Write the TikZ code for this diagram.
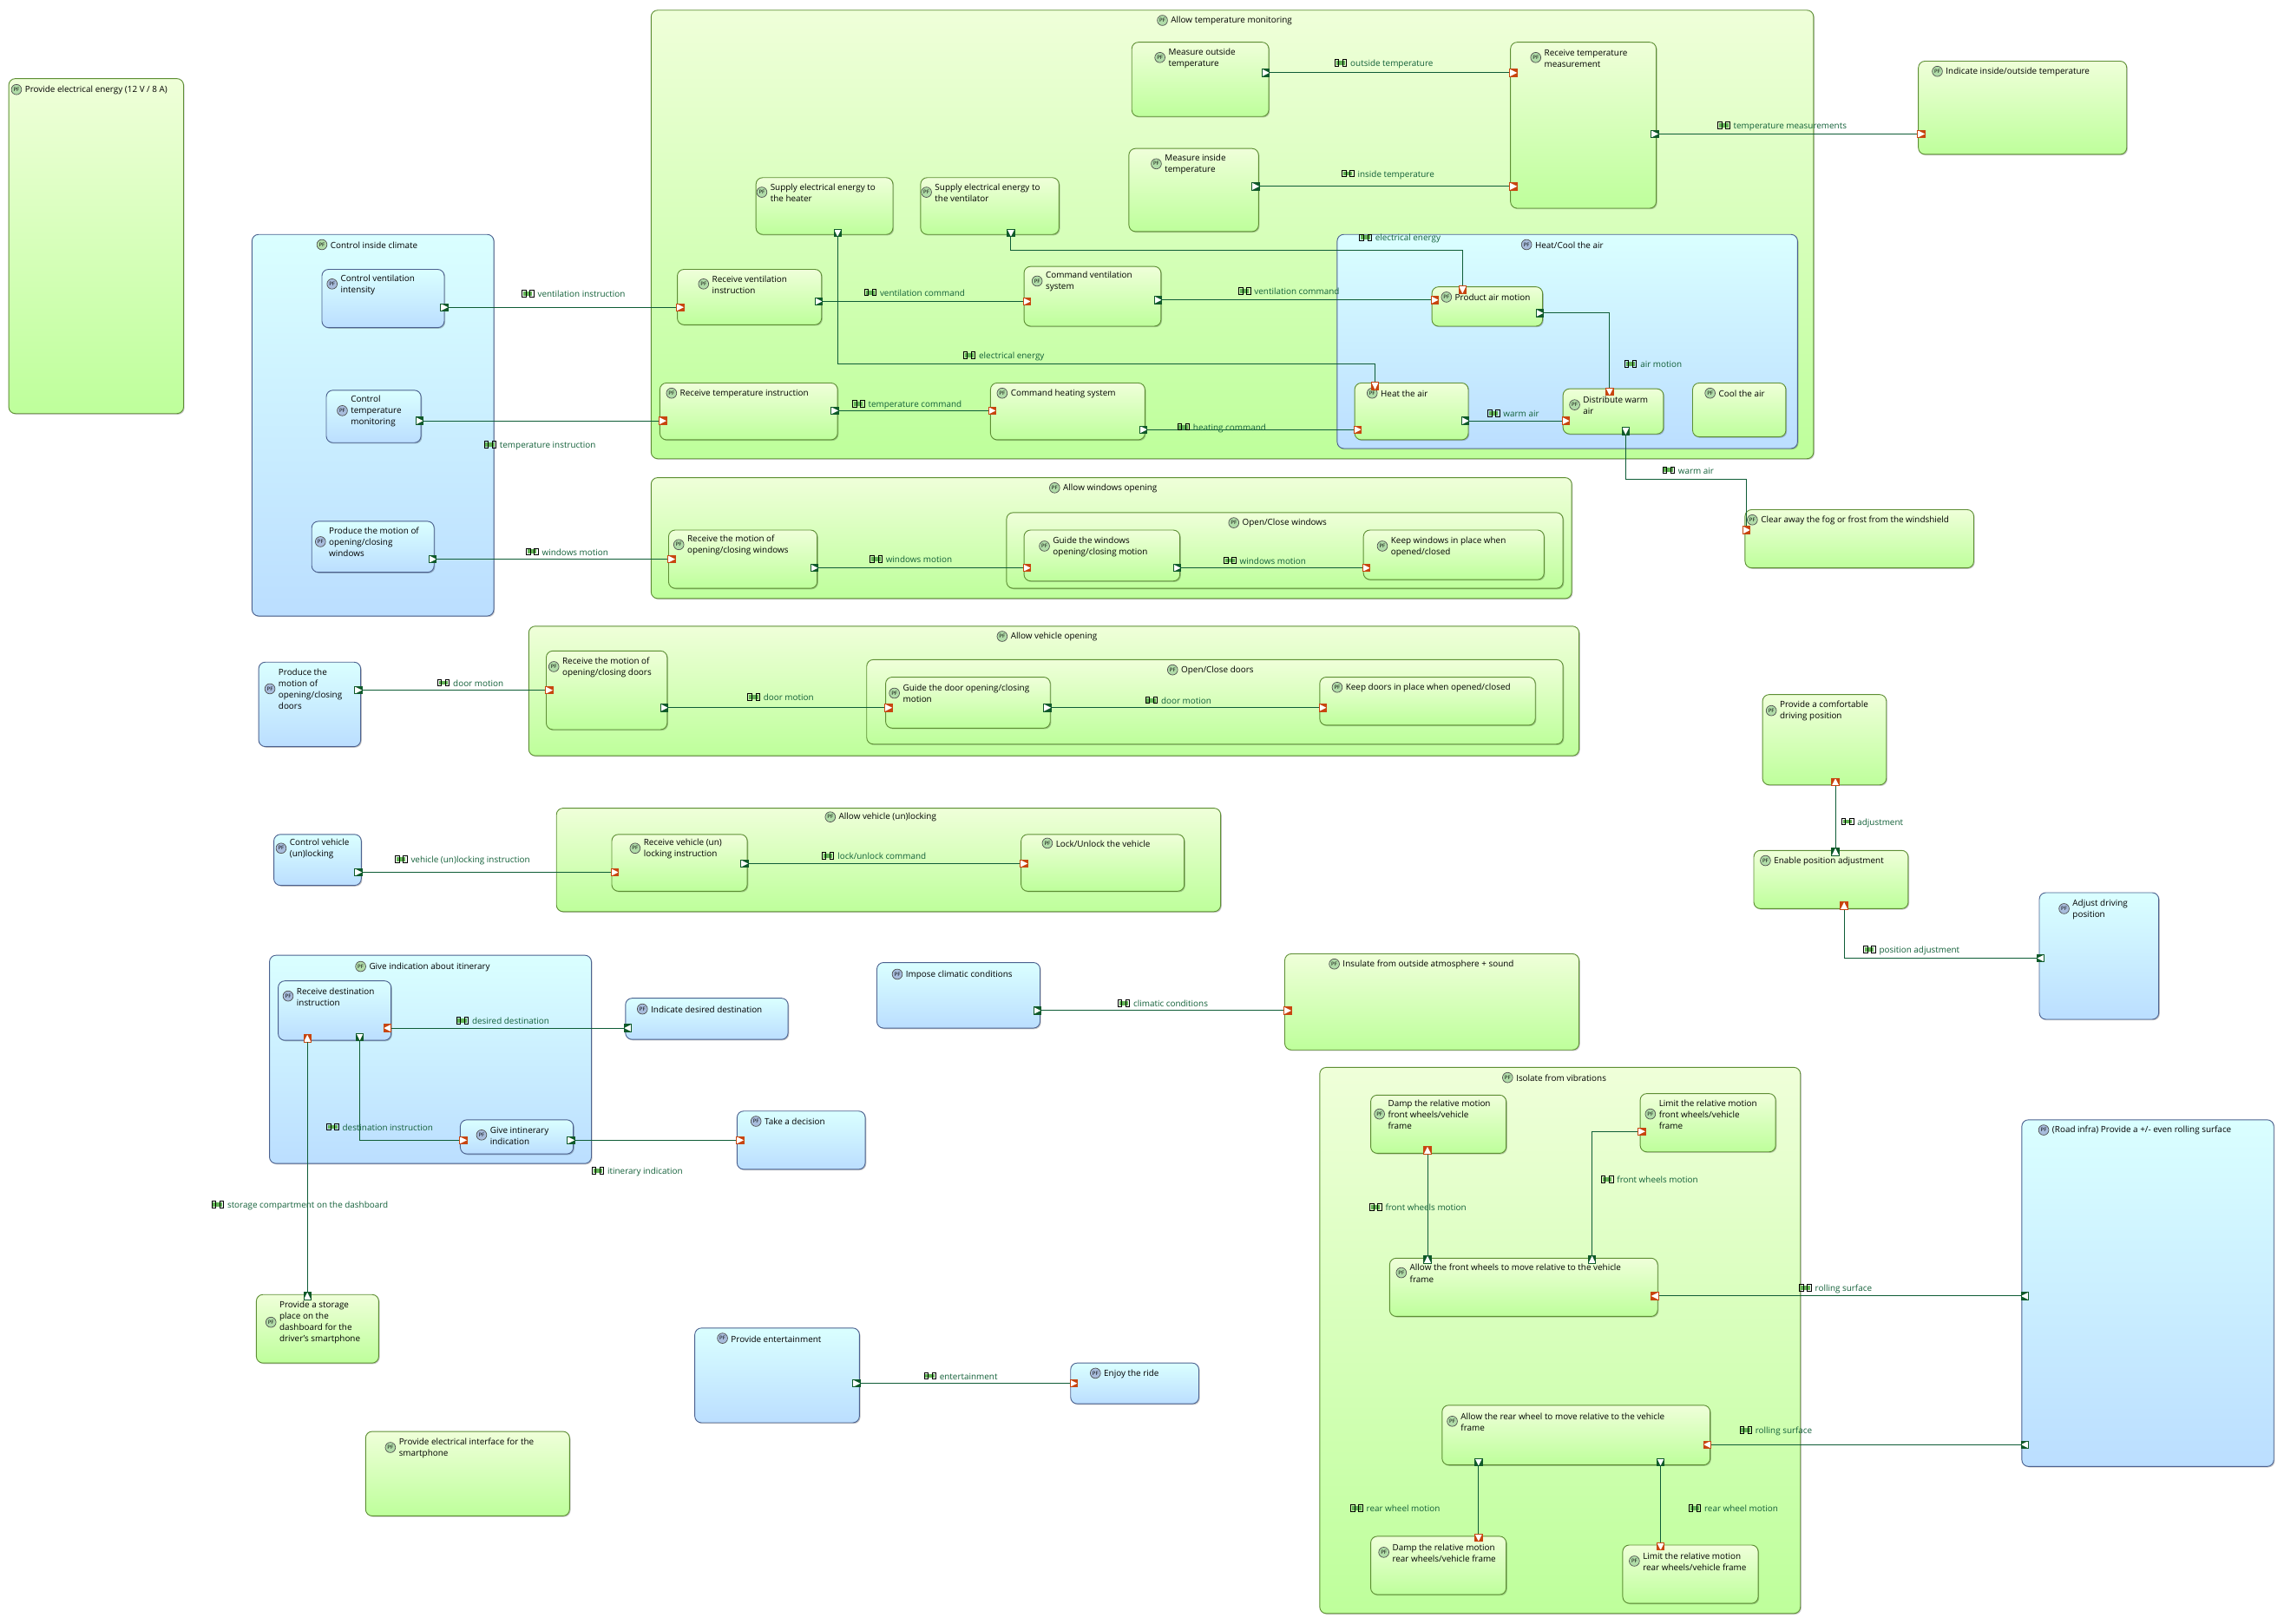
\documentclass[tikz,border=0pt]{standalone}
\usepackage{fontspec}
\setmainfont{Open Sans}
\usetikzlibrary{positioning, shadows}
\definecolor{flowgreen}{HTML}{0E5C36}
\definecolor{itemgreen}{HTML}{125F38}
\definecolor{itemfill}{HTML}{62B455}
\definecolor{outgreen}{HTML}{0F5A2A}
\definecolor{inorange}{HTML}{C8450F}
\definecolor{gtop}{HTML}{EFFFD9}
\definecolor{gbot}{HTML}{BEFF9B}
\definecolor{gline}{HTML}{5E8F34}
\definecolor{btop}{HTML}{DAFFFF}
\definecolor{bbot}{HTML}{BBDEFF}
\definecolor{bline}{HTML}{4C6290}
\definecolor{pfgfill}{HTML}{B0DCA8}
\definecolor{pfbfill}{HTML}{A8BCDC}
\newcommand{\itemmark}{\tikz[baseline=0pt,x=1pt,y=1pt]{\fill[itemfill] (1,1) rectangle (7.2,3.9);\draw[black,line width=.5pt] (2.8,.2) -- (.2,.2) -- (.2,4.8) -- (2.8,4.8) -- cycle (5.6,.2) -- (8.2,.2) -- (8.2,4.8) -- (5.6,4.8) -- cycle;}\hspace{2.4pt}}
\begin{document}
\begin{tikzpicture}[
    x=1pt, y=-1pt,
    funcg/.style={rectangle, draw=gline, line width=.55pt, rounded corners=4.5pt, top color=gtop, bottom color=gbot, drop shadow={shadow xshift=.7pt, shadow yshift=-.7pt, opacity=.22, fill=black}},
    funcb/.style={rectangle, draw=bline, line width=.55pt, rounded corners=4.5pt, top color=btop, bottom color=bbot, drop shadow={shadow xshift=.7pt, shadow yshift=-.7pt, opacity=.22, fill=black}},
    pfg/.style={circle, draw=black!70, line width=.4pt, fill=pfgfill, inner sep=0pt, minimum size=7pt, font=\fontsize{3.6}{4}\selectfont},
    pfb/.style={circle, draw=black!70, line width=.4pt, fill=pfbfill, inner sep=0pt, minimum size=7pt, font=\fontsize{3.6}{4}\selectfont},
    fntext/.style={inner sep=0pt, yshift=-.4pt, align=left, font=\fontsize{5.9}{7.75}\selectfont, text=black},
    itemtext/.style={anchor=west, inner sep=0pt, yshift=-.8pt, font=\fontsize{5.9}{7.75}\selectfont, text=itemgreen},
    flow/.style={draw=flowgreen, line width=.6pt},
    porta/.style={rectangle, minimum size=5pt, inner sep=0pt, line width=.5pt},
    tr/.style={path picture={\fill[white] (path picture bounding box.north west) -- (path picture bounding box.east) -- (path picture bounding box.south west) -- cycle;}},
    tl/.style={path picture={\fill[white] (path picture bounding box.north east) -- (path picture bounding box.west) -- (path picture bounding box.south east) -- cycle;}},
    tu/.style={path picture={\fill[white] (path picture bounding box.south west) -- (path picture bounding box.north) -- (path picture bounding box.south east) -- cycle;}},
    td/.style={path picture={\fill[white] (path picture bounding box.north west) -- (path picture bounding box.south) -- (path picture bounding box.north east) -- cycle;}},
    outR/.style={porta, draw=outgreen, fill=outgreen, tr},
    outL/.style={porta, draw=outgreen, fill=outgreen, tl},
    outU/.style={porta, draw=outgreen, fill=outgreen, tu},
    outD/.style={porta, draw=outgreen, fill=outgreen, td},
    inR/.style={porta, draw=inorange, fill=inorange, tr},
    inL/.style={porta, draw=inorange, fill=inorange, tl},
    inU/.style={porta, draw=inorange, fill=inorange, tu},
    inD/.style={porta, draw=inorange, fill=inorange, td},
]
    \useasboundingbox (0,0) rectangle (1568,1115.2);

    % Functions, outer ones first
    \foreach \n/\st/\pf/\xa/\ya/\xb/\yb/\bx/\by/\txt in {
        elec/funcg/pfg/6/54/126/284/11.3/61.5/{Provide electrical energy (12 V / 8 A)},
        climate/funcb/pfg/173/161/339/423/221/168/{Control inside climate},
        ventint/funcb/pfb/221/185/305/225/228/195/{Control ventilation\\intensity},
        tempmon/funcb/pfb/224/268/289/304/235/282/{Control\\temperature\\monitoring},
        winmot/funcb/pfb/214/358/298/393/220/372/{Produce the motion of\\opening/closing\\windows},
        allowtemp/funcg/pfg/447/7/1245/315/798/14/{Allow temperature monitoring},
        measout/funcg/pfg/777/29/871/80/796.3/39.5/{Measure outside\\temperature},
        measin/funcg/pfg/775/102/864/159/793.8/112.5/{Measure inside\\temperature},
        recmeas/funcg/pfg/1037/29/1137/143/1054.3/39.5/{Receive temperature\\measurement},
        supheat/funcg/pfg/519/122/613/161/523/132/{Supply electrical energy to\\the heater},
        supvent/funcg/pfg/632/122/727/161/636/132/{Supply electrical energy to\\the ventilator},
        recvent/funcg/pfg/465/185/564/223/483/195/{Receive ventilation\\instruction},
        cmdvent/funcg/pfg/703/183/797/224/712/193/{Command ventilation\\system},
        rectemp/funcg/pfg/453/263/575/302/461/270/{Receive temperature instruction},
        cmdheat/funcg/pfg/680/263/786/302/688/270/{Command heating system},
        heatcool/funcb/pfb/918/161/1234/308/1048/168/{Heat/Cool the air},
        airmot/funcg/pfg/983/197/1059/224/993/204/{Product air motion},
        heatair/funcg/pfg/930/263/1008/302/942/270/{Heat the air},
        distair/funcg/pfg/1073/267/1142/298/1081/278/{Distribute warm\\air},
        coolair/funcg/pfg/1162/263/1226/300/1174/270/{Cool the air},
        indtemp/funcg/pfg/1317/42/1460/106/1330/49/{Indicate inside/outside temperature},
        allowwin/funcg/pfg/447/328/1079/411/724/335/{Allow windows opening},
        recwin/funcg/pfg/459/364/561/404/466/374/{Receive the motion of\\opening/closing windows},
        openwin/funcg/pfg/691/352/1073/404/847/359/{Open/Close windows},
        guidewin/funcg/pfg/703/364/810/399/717/375/{Guide the windows\\opening/closing motion},
        keepwin/funcg/pfg/936/364/1060/398/949/375/{Keep windows in place when\\opened/closed},
        clearfog/funcg/pfg/1198/350/1355/390/1203/357/{Clear away the fog or frost from the windshield},
        allowveh/funcg/pfg/363/430/1084/519/688/437/{Allow vehicle opening},
        doormot/funcb/pfb/177.6/454.7/247.6/512.7/185.3/473/{Produce the\\motion of\\opening/closing\\doors},
        recdoor/funcg/pfg/375/447/458/501/380.2/457.8/{Receive the motion of\\opening/closing doors},
        opendoor/funcg/pfg/595/453/1073/511/805/460/{Open/Close doors},
        guidedoor/funcg/pfg/608/465/721/500/614/476/{Guide the door opening/closing\\motion},
        keepdoor/funcg/pfg/906/465/1054/498/918/472/{Keep doors in place when opened/closed},
        allowlock/funcg/pfg/382/555/838/626/570/561/{Allow vehicle (un)locking},
        ctrllock/funcb/pfb/188/573/248/608/193/582.5/{Control vehicle\\(un)locking},
        reclock/funcg/pfg/420/573/513/612/436/582.5/{Receive vehicle (un)\\locking instruction},
        lockveh/funcg/pfg/701/573/813/612/719/579/{Lock/Unlock the vehicle},
        itin/funcb/pfg/185/656/406/799/247.6/663.7/{Give indication about itinerary},
        recdest/funcb/pfb/191/673.6/268.5/714.4/197.8/684/{Receive destination\\instruction},
        giveind/funcb/pfb/316/769/393.6/792.4/330.6/779.4/{Give intinerary\\indication},
        inddest/funcb/pfb/429.4/685.5/541/713.8/441/692.9/{Indicate desired destination},
        decision/funcb/pfb/506/763/594/803/519/770/{Take a decision},
        storage/funcg/pfg/176/889/260/936/186/908/{Provide a storage\\place on the\\dashboard for the\\driver's smartphone},
        entert/funcb/pfb/477/912/590/977/496/919/{Provide entertainment},
        ride/funcb/pfb/735/936/823/964/752/943/{Enjoy the ride},
        eleciface/funcg/pfg/251/983/391/1041/268/994/{Provide electrical interface for the\\smartphone},
        climatic/funcb/pfb/602/661/714/706/616/669/{Impose climatic conditions},
        insulate/funcg/pfg/882/655/1084/721/916/662/{Insulate from outside atmosphere + sound},
        comfort/funcg/pfg/1210/477/1295/539/1216/488/{Provide a comfortable\\driving position},
        adjust/funcg/pfg/1204/584/1310/624/1212/591/{Enable position adjustment},
        adjdrive/funcb/pfb/1400/613/1482/700/1417/624/{Adjust driving\\position},
        isolate/funcg/pfg/906/733/1236/1108/1035/740/{Isolate from vibrations},
        dampfront/funcg/pfg/941/752/1034/792/947/765/{Damp the relative motion\\front wheels/vehicle\\frame},
        limfront/funcg/pfg/1126/751/1219/791/1133/765/{Limit the relative motion\\front wheels/vehicle\\frame},
        frontrel/funcg/pfg/954/864/1138/904/962/874/{Allow the front wheels to move relative to the vehicle\\frame},
        rearrel/funcg/pfg/990/965/1174/1006/997/976/{Allow the rear wheel to move relative to the vehicle\\frame},
        damprear/funcg/pfg/941/1055/1034/1095/950/1066/{Damp the relative motion\\rear wheels/vehicle frame},
        limrear/funcg/pfg/1114/1061/1207/1101/1122/1072/{Limit the relative motion\\rear wheels/vehicle frame},
        road/funcb/pfb/1388/769/1561/1007/1403/776/{(Road infra) Provide a +/- even rolling surface}} {
        \node[\st, minimum width={(\xb-\xa)*1pt}, minimum height={(\yb-\ya)*1pt}] (\n) at ({(\xa+\xb)/2},{(\ya+\yb)/2}) {};
        \node[\pf] (\n pf) at (\bx,\by) {PF};
        \node[fntext, right=2pt of \n pf] (\n txt) {\txt};
    }

    % Straight exchanges
    \foreach \k/\so/\xa/\ya/\si/\xb/\yb/\lx/\ly/\txt in {
        f1/outR/305/211/inR/467/211/358/201/{ventilation instruction},
        f2/outR/288/289/inR/455/289/332/305/{temperature instruction},
        f3/outR/297/384/inR/461/384/361/378/{windows motion},
        f4/outR/562/207/inR/705/207/593/200/{ventilation command},
        f5/outR/573/282/inR/681/282/585/277/{temperature command},
        f6/outR/795/206/inR/985/206/850/199/{ventilation command},
        f7/outR/785/295/inR/932/295/808/293/{heating command},
        f10/outR/869/50/inR/1039/50/916/43/{outside temperature},
        f11/outR/862/128/inR/1039/128/921/119/{inside temperature},
        f12/outR/1136/92/inR/1319/92/1179/86/{temperature measurements},
        f14/outR/1006/289/inR/1075/289/1021/283/{warm air},
        f16/outR/559/390/inR/705/390/597/383/{windows motion},
        f17/outR/808/390/inR/938/390/840/384/{windows motion},
        f18/outR/246/474/inR/377/474/300/468/{door motion},
        f19/outR/456/486/inR/610/486/513/478/{door motion},
        f20/outR/719/486/inR/908/486/786/480/{door motion},
        f21/outR/246/599/inR/422/599/271/590/{vehicle (un)locking instruction},
        f22/outR/511/593/inR/703/593/564/587/{lock/unlock command},
        f23/outR/712/694/inR/884/694/767/688/{climatic conditions},
        f24/outL/431/706/inL/266/706/313/700/{desired destination},
        f26/outR/392/783/inR/508/783/406/804/{itinerary indication},
        f27/outU/211/890/inU/211/713/145/827/{storage compartment on the dashboard},
        f28/outR/588/950/inR/737/950/634/944/{entertainment},
        f29/outU/1260/585/inU/1260/537/1264/564/{adjustment},
        f31/outU/980/865/inU/980/790/940/828/{front wheels motion},
        f33/outL/1390/890/inL/1136/890/1235/884/{rolling surface},
        f34/outL/1390/992/inL/1172/992/1194/982/{rolling surface},
        f35/outD/1015/1004/inD/1015/1056/927/1035/{rear wheel motion},
        f36/outD/1140/1004/inD/1140/1062/1159/1035/{rear wheel motion}} {
        \node[\so] (\k a) at (\xa,\ya) {};
        \node[\si] (\k b) at (\xb,\yb) {};
        \draw[flow] (\k a) -- (\k b);
        \node[itemtext] (\k l) at (\lx,\ly) {\itemmark\txt};
    }

    % Bent exchanges
    \node[outD] (f8a) at (575,160) {};
    \node[inD] (f8b) at (944,265) {};
    \coordinate (f8c) at (575,250);
    \draw[flow] (f8a) -- (f8c) -| (f8b);
    \node[itemtext] (f8l) at (661,244) {\itemmark electrical energy};

    \node[outD] (f9a) at (694,160) {};
    \node[inD] (f9b) at (1004,199) {};
    \coordinate (f9c) at (694,172);
    \draw[flow] (f9a) -- (f9c) -| (f9b);
    \node[itemtext] (f9l) at (933,163) {\itemmark electrical energy};

    \node[outR] (f13a) at (1057,215) {};
    \node[inD] (f13b) at (1105,269) {};
    \draw[flow] (f13a) -| (f13b);
    \node[itemtext] (f13l) at (1115,249) {\itemmark air motion};

    \node[outD] (f15a) at (1116,296) {};
    \node[inR] (f15b) at (1199,364) {};
    \coordinate (f15c) at (1116,329);
    \draw[flow] (f15a) -- (f15c) -| (f15b);
    \node[itemtext] (f15l) at (1141,322) {\itemmark warm air};

    \node[outD] (f25a) at (247,712) {};
    \node[inR] (f25b) at (318,783) {};
    \draw[flow] (f25a) |- (f25b);
    \node[itemtext] (f25l) at (224,773) {\itemmark destination instruction};

    \node[outL] (f30a) at (1401,658) {};
    \node[inU] (f30b) at (1266,622) {};
    \draw[flow] (f30a) -| (f30b);
    \node[itemtext] (f30l) at (1279,652) {\itemmark position adjustment};

    \node[outU] (f32a) at (1093,865) {};
    \node[inR] (f32b) at (1127,777) {};
    \draw[flow] (f32a) |- (f32b);
    \node[itemtext] (f32l) at (1099,809) {\itemmark front wheels motion};
\end{tikzpicture}
\end{document}
